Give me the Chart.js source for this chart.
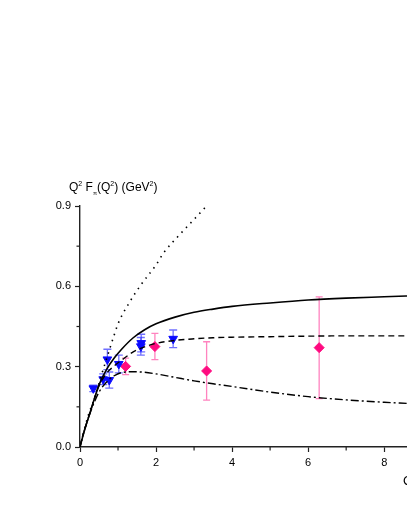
<!DOCTYPE html>
<html>
<head>
<meta charset="utf-8">
<script src="https://cdn.jsdelivr.net/npm/chart.js@4.4.1/dist/chart.umd.min.js"></script>
<style>
  html, body { margin: 0; padding: 0; background: #fff; overflow: hidden; }
  #wrap { width: 407px; height: 527px; overflow: hidden; }
</style>
</head>
<body>
<div id="wrap"><canvas id="chart" width="413" height="527"></canvas></div>
<script>
// model curves
const solidQ2 = [0, 0.05, 0.1, 0.2, 0.3, 0.4, 0.5, 0.7, 0.9, 1.1, 1.4, 1.7, 2.0, 2.5, 3.0, 3.5, 4.0, 5.0, 6.0, 7.0, 8.0, 8.6];
const solidF  = [0, 0.027, 0.053, 0.1, 0.145, 0.19, 0.232, 0.29, 0.332, 0.366, 0.408, 0.438, 0.46, 0.485, 0.503, 0.515, 0.525, 0.538, 0.549, 0.556, 0.561, 0.564];

const dashQ2 = [0, 0.05, 0.1, 0.2, 0.3, 0.4, 0.5, 0.7, 0.9, 1.1, 1.4, 1.7, 2.0, 2.5, 3.0, 3.5, 4.0, 5.0, 6.0, 7.0, 8.0, 8.6];
const dashF  = [0, 0.03, 0.055, 0.1, 0.145, 0.19, 0.228, 0.275, 0.303, 0.325, 0.355, 0.374, 0.387, 0.398, 0.404, 0.408, 0.41, 0.412, 0.414, 0.415, 0.415, 0.415];

const dashDotQ2 = [0, 0.05, 0.1, 0.2, 0.3, 0.4, 0.5, 0.7, 0.9, 1.1, 1.4, 1.7, 2.0, 2.5, 3.0, 3.5, 4.0, 5.0, 6.0, 7.0, 8.0, 8.6];
const dashDotF  = [0, 0.03, 0.055, 0.1, 0.14, 0.175, 0.205, 0.243, 0.266, 0.278, 0.281, 0.279, 0.273, 0.26, 0.247, 0.236, 0.226, 0.205, 0.188, 0.176, 0.167, 0.163];

const dotQ2 = [0, 0.2, 0.4, 0.55, 0.7, 0.88, 1.0, 1.3, 1.6, 2.0, 2.2, 2.6, 3.0, 3.33];
const dotF  = [0, 0.11, 0.19, 0.262, 0.33, 0.41, 0.46, 0.54, 0.605, 0.68, 0.725, 0.79, 0.85, 0.9];

// measured points
const blueQ2  = [0.35, 0.61, 0.77, 0.72, 1.02, 1.60, 1.61, 2.45];
const blueF   = [0.219, 0.253, 0.250, 0.327, 0.310, 0.376, 0.388, 0.404];
const blueErr = [0.012, 0.02, 0.03, 0.038, 0.033, 0.033, 0.033, 0.033];

const pinkQ2  = [1.20, 1.97, 3.33, 6.29];
const pinkF   = [0.301, 0.375, 0.284, 0.371];
const pinkErr = [0.031, 0.049, 0.109, 0.19];

const FONT = '"Liberation Sans", Arial, sans-serif';

function pts(xs, ys) {
  return xs.map((x, i) => ({ x, y: ys[i] }));
}

function curve(xs, ys, dash, width) {
  return {
    data: pts(xs, ys),
    showLine: true,
    borderColor: '#000',
    borderWidth: width,
    borderDash: dash,
    pointRadius: 0,
    cubicInterpolationMode: 'monotone',
    fill: false
  };
}

function drawErrors(ctx, xs, ys, xv, yv, ev, color, cap) {
  ctx.save();
  ctx.strokeStyle = color;
  ctx.lineWidth = 1.3;
  xv.forEach((q, i) => {
    const px = xs.getPixelForValue(q);
    const top = ys.getPixelForValue(yv[i] + ev[i]);
    const bot = ys.getPixelForValue(yv[i] - ev[i]);
    ctx.beginPath();
    ctx.moveTo(px, top); ctx.lineTo(px, bot);
    ctx.moveTo(px - cap, top); ctx.lineTo(px + cap, top);
    ctx.moveTo(px - cap, bot); ctx.lineTo(px + cap, bot);
    ctx.stroke();
  });
  ctx.restore();
}

// text with super/subscripts: [text, size, shift]
function drawRich(ctx, x, base, parts) {
  ctx.save();
  ctx.fillStyle = '#000';
  ctx.textAlign = 'left';
  ctx.textBaseline = 'alphabetic';
  parts.forEach(([t, size, dy]) => {
    ctx.font = size + 'px ' + FONT;
    ctx.fillText(t, x, base + dy);
    x += ctx.measureText(t).width;
  });
  ctx.restore();
}

function minorTicks(ctx, scale, vertical) {
  const t = scale.ticks;
  ctx.save();
  ctx.strokeStyle = '#222';
  ctx.lineWidth = 1.2;
  for (let i = 0; i < t.length - 1; i++) {
    const p = scale.getPixelForValue((t[i].value + t[i + 1].value) / 2);
    ctx.beginPath();
    if (vertical) {
      const x0 = scale.chart.chartArea.left;
      ctx.moveTo(x0, p); ctx.lineTo(x0 - 3.5, p);
    } else {
      const y0 = scale.chart.chartArea.bottom;
      ctx.moveTo(p, y0); ctx.lineTo(p, y0 + 3.5);
    }
    ctx.stroke();
  }
  ctx.restore();
}

const extras = {
  id: 'extras',
  beforeDatasetsDraw(chart) {
    const { ctx, scales: { x, y } } = chart;
    drawErrors(ctx, x, y, blueQ2, blueF, blueErr, 'rgba(50,50,255,0.7)', 4);
    drawErrors(ctx, x, y, pinkQ2, pinkF, pinkErr, 'rgba(255,90,170,0.75)', 3.5);
  },
  afterDraw(chart) {
    const { ctx, scales: { x, y } } = chart;
    minorTicks(ctx, y, true);
    minorTicks(ctx, x, false);
    drawRich(ctx, 69, 191, [
      ['Q', 12, 0], ['2', 7, -5], [' F', 12, 0], ['\u03c0', 6, 4],
      ['(Q', 12, 0], ['2', 7, -5], [') (GeV', 12, 0], ['2', 7, -5], [')', 12, 0]
    ]);
    drawRich(ctx, 403, 485, [['Q', 13, 0], ['2', 8, -5], [' (GeV', 13, 0], ['2', 8, -5], [')', 13, 0]]);
  }
};

new Chart(document.getElementById('chart'), {
  type: 'scatter',
  data: {
    datasets: [
      curve(solidQ2, solidF, [], 1.6),
      curve(dashQ2, dashF, [6, 4], 1.4),
      curve(dashDotQ2, dashDotF, [8, 3, 2, 3], 1.4),
      curve(dotQ2, dotF, [1.5, 5], 1.6),
      {
        data: pts(blueQ2, blueF),
        pointStyle: 'triangle',
        rotation: 180,
        pointRadius: 5,
        backgroundColor: '#0a0aff',
        borderColor: '#0a0aff',
        borderWidth: 1
      },
      {
        data: pts(pinkQ2, pinkF),
        pointStyle: 'rectRot',
        pointRadius: 5,
        backgroundColor: '#ff0a80',
        borderColor: '#ff0a80',
        borderWidth: 1
      }
    ]
  },
  options: {
    responsive: false,
    animation: false,
    events: [],
    layout: { padding: { top: 206, left: 0, right: 0, bottom: 0 } },
    plugins: { legend: { display: false }, tooltip: { enabled: false } },
    scales: {
      x: {
        type: 'linear',
        min: 0,
        max: 8.6,
        afterFit(s) { s.height = 80; },
        border: { color: '#222', width: 1.4 },
        grid: { drawOnChartArea: false, tickLength: 5, tickColor: '#222', tickWidth: 1.2 },
        ticks: {
          stepSize: 2,
          includeBounds: false,
          padding: 4,
          color: '#000',
          font: { family: FONT, size: 11 },
          callback: v => String(v)
        }
      },
      y: {
        type: 'linear',
        min: 0,
        max: 0.9,
        afterFit(s) { s.width = 80; },
        border: { color: '#222', width: 1.4 },
        grid: { drawOnChartArea: false, tickLength: 5, tickColor: '#222', tickWidth: 1.2 },
        ticks: {
          stepSize: 0.3,
          padding: 4,
          color: '#000',
          font: { family: FONT, size: 11 },
          callback: v => v.toFixed(1)
        }
      }
    }
  },
  plugins: [extras]
});
</script>
</body>
</html>
